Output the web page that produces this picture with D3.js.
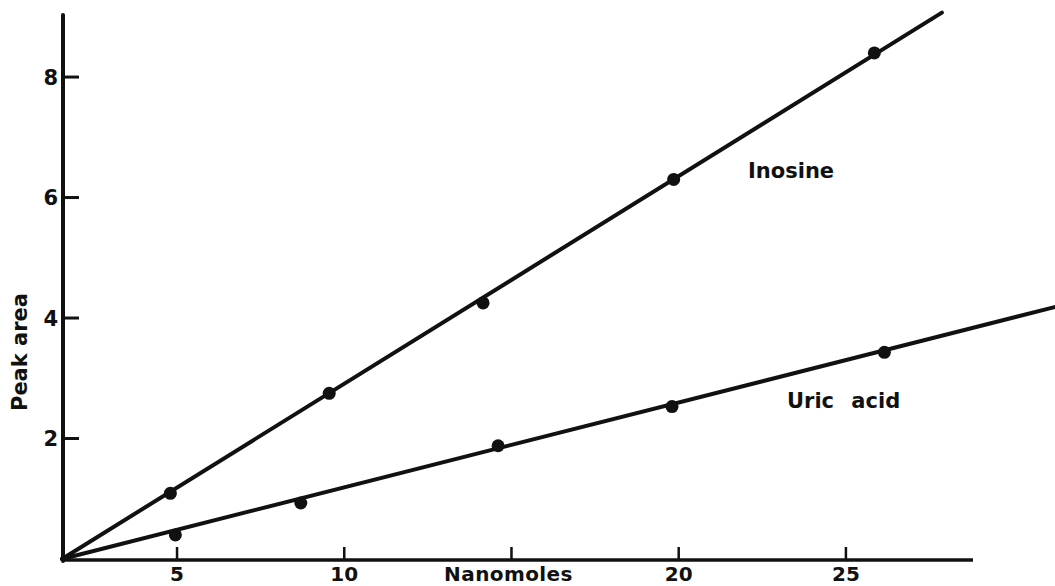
<!DOCTYPE html>
<html>
<head>
<meta charset="utf-8">
<script src="https://cdn.jsdelivr.net/npm/d3@7/dist/d3.min.js"></script>
<style>
  html, body { margin: 0; padding: 0; background: #fff; }
  svg { display: block; }
  text { font-family: "DejaVu Sans", sans-serif; font-weight: bold; fill: #111; }
</style>
</head>
<body>
<svg id="chart" width="1055" height="586"></svg>
<script>
// ---- data ----
const xTicks = [5, 10, 15, 20, 25];
const xTickLabels = ["5", "10", "", "20", "25"];
const yTicks = [2, 4, 6, 8];
const yTickLabels = ["2", "4", "6", "8"];

const inosineX = [4.8, 9.55, 14.15, 19.85, 25.85];
const inosineY = [1.09, 2.75, 4.25, 6.30, 8.40];
const uricX = [4.95, 8.7, 14.6, 19.8, 26.15];
const uricY = [0.40, 0.93, 1.88, 2.53, 3.43];

// fitted lines (start at axis origin, end values)
const inosineFitX = [1.56, 27.87];
const inosineFitY = [0, 9.07];
const uricFitX = [1.56, 31.3];
const uricFitY = [0, 4.19];

const xDomain = [1.56, 28.8];
const yDomain = [0, 9.03];

// ---- chart ----
const svg = d3.select("#chart");
const x = d3.scaleLinear().domain(xDomain).range([62, 973]);
const y = d3.scaleLinear().domain(yDomain).range([559, 15]);

const ink = "#111";

// axes lines
svg.append("line")
  .attr("x1", x(xDomain[0])).attr("x2", x(xDomain[1]))
  .attr("y1", y(0) + 1).attr("y2", y(0) + 1)
  .attr("stroke", ink).attr("stroke-width", 3.5);
svg.append("line")
  .attr("x1", x(xDomain[0]) + 1).attr("x2", x(xDomain[0]) + 1)
  .attr("y1", y(0) + 2).attr("y2", y(yDomain[1]))
  .attr("stroke", ink).attr("stroke-width", 4).attr("stroke-linecap", "round");

// x ticks (inward / upward)
const xg = svg.append("g");
xTicks.forEach((t, i) => {
  xg.append("line")
    .attr("x1", x(t)).attr("x2", x(t))
    .attr("y1", y(0)).attr("y2", y(0) - 12)
    .attr("stroke", ink).attr("stroke-width", 2.5);
  if (xTickLabels[i]) {
    xg.append("text")
      .attr("x", x(t)).attr("y", 581)
      .attr("text-anchor", "middle")
      .attr("font-size", 20)
      .text(xTickLabels[i]);
  }
});
svg.append("text")
  .attr("x", x(15) - 3).attr("y", 581)
  .attr("text-anchor", "middle")
  .attr("font-size", 20)
  .attr("letter-spacing", 0.4)
  .text("Nanomoles");

// y ticks (inward / right)
const yg = svg.append("g");
yTicks.forEach((t, i) => {
  yg.append("line")
    .attr("x1", x(xDomain[0])).attr("x2", x(xDomain[0]) + 17)
    .attr("y1", y(t)).attr("y2", y(t))
    .attr("stroke", ink).attr("stroke-width", 3);
  yg.append("text")
    .attr("x", 58).attr("y", y(t))
    .attr("dy", "0.36em")
    .attr("text-anchor", "end")
    .attr("font-size", 21)
    .text(yTickLabels[i]);
});

svg.append("text")
  .attr("transform", "translate(19,352) rotate(-90)")
  .attr("text-anchor", "middle")
  .attr("dy", "0.36em")
  .attr("font-size", 21)
  .text("Peak area");

// fitted lines
const line = d3.line().x(d => x(d[0])).y(d => y(d[1]));
const inoFit = inosineFitX.map((v, i) => [v, inosineFitY[i]]);
const uricFit = uricFitX.map((v, i) => [v, uricFitY[i]]);
[inoFit, uricFit].forEach(pts => {
  svg.append("path")
    .attr("d", line(pts))
    .attr("fill", "none")
    .attr("stroke", ink)
    .attr("stroke-width", 4)
    .attr("stroke-linecap", "round");
});

// points
const inoPts = inosineX.map((v, i) => [v, inosineY[i]]);
const uricPts = uricX.map((v, i) => [v, uricY[i]]);
[inoPts, uricPts].forEach(pts => {
  svg.append("g").selectAll("circle")
    .data(pts).join("circle")
    .attr("cx", d => x(d[0])).attr("cy", d => y(d[1]))
    .attr("r", 6.5)
    .attr("fill", ink);
});

// series labels
svg.append("text")
  .attr("x", 748).attr("y", 178)
  .attr("font-size", 21)
  .text("Inosine");
svg.append("text")
  .attr("x", 787).attr("y", 408)
  .attr("font-size", 21)
  .attr("word-spacing", 10)
  .text("Uric acid");
</script>
</body>
</html>
